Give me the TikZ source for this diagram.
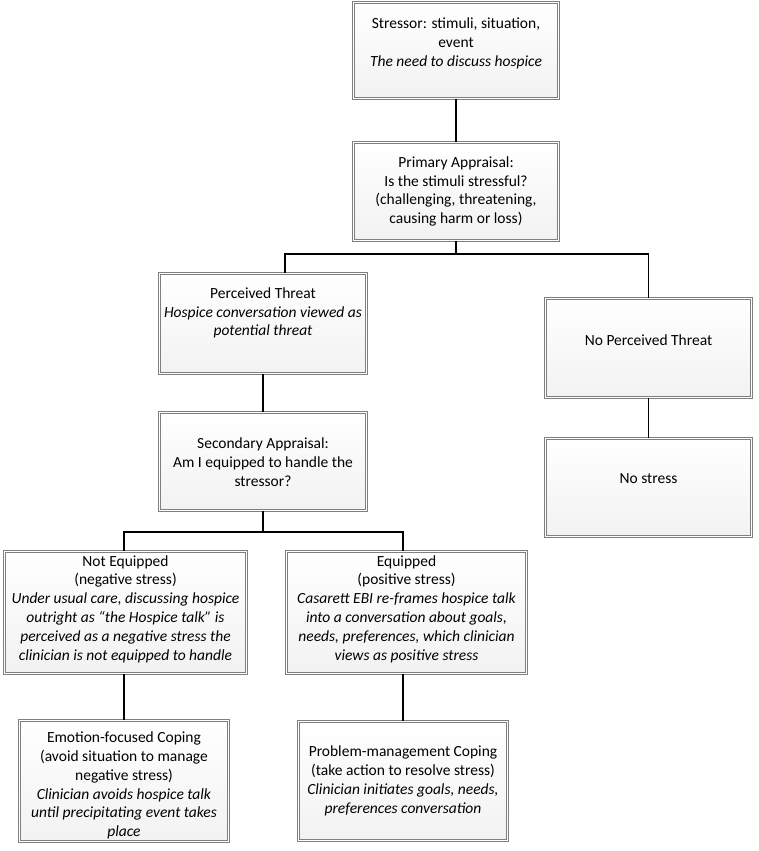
\documentclass[tikz,border=0pt]{standalone}
\usepackage{fontspec}
\setmainfont{Carlito}
\usetikzlibrary{shadows,calc}
\definecolor{boxline}{HTML}{7F7F7F}
\definecolor{boxbot}{HTML}{F2F2F2}
\tikzset{
  box/.style={draw=boxline, line width=0.8pt, double=white, double distance=1.6pt,
    top color=white, bottom color=boxbot, inner sep=0pt,
    drop shadow={shadow xshift=1.5pt, shadow yshift=-1.5pt, opacity=0.2, fill=black}},
  txt/.style={align=center, inner sep=0pt, font=\fontsize{15.5}{18.8}\selectfont},
  conn/.style={line width=1.8pt, black},
}
\begin{document}
\begin{tikzpicture}[x=1pt,y=-1pt]
\useasboundingbox (0,0) rectangle (758,851);
% boxes
\node[box, minimum width=204.8pt, minimum height=95.8pt] (b1) at (456,50.5) {};
\node[box, minimum width=204.8pt, minimum height=97.8pt] (b2) at (456,191.5) {};
\node[box, minimum width=206.8pt, minimum height=99.8pt] (b3) at (263,323.5) {};
\node[box, minimum width=206.8pt, minimum height=97.8pt] (b4) at (263,461.5) {};
\node[box, minimum width=205.8pt, minimum height=98.8pt] (b5) at (648.5,348) {};
\node[box, minimum width=205.8pt, minimum height=97.8pt] (b6) at (648.5,487.5) {};
\node[box, minimum width=241.8pt, minimum height=121.8pt] (b7) at (125.5,612.5) {};
\node[box, minimum width=239.8pt, minimum height=121.8pt] (b8) at (406.5,612.5) {};
\node[box, minimum width=208.8pt, minimum height=120.8pt] (b9) at (124,781) {};
\node[box, minimum width=208.8pt, minimum height=118.8pt] (b10) at (403,781) {};
% texts
\node[txt] (t1) at (456,43.5) {Stressor: stimuli, situation,\\ event\\ \textit{The need to discuss hospice}};
\node[txt] (t2) at (456,191.5) {Primary Appraisal:\\ Is the stimuli stressful?\\ (challenging, threatening,\\ causing harm or loss)};
\node[txt] (t3) at (263,313) {Perceived Threat\\ \textit{Hospice conversation viewed as}\\ \textit{potential threat}};
\node[txt] (t4) at (263,462) {Secondary Appraisal:\\ Am I equipped to handle the\\ stressor?};
\node[txt] (t5) at (648.5,340) {No Perceived Threat};
\node[txt] (t6) at (648.5,479) {No stress};
\node[txt] (t7) at (125.5,609) {Not Equipped\\ (negative stress)\\ \textit{Under usual care, discussing hospice}\\ \textit{outright as “the Hospice talk” is}\\ \textit{perceived as a negative stress the}\\ \textit{clinician is not equipped to handle}};
\node[txt] (t8) at (406.5,609) {Equipped\\ (positive stress)\\ \textit{Casarett EBI re-frames hospice talk}\\ \textit{into a conversation about goals,}\\ \textit{needs, preferences, which clinician}\\ \textit{views as positive stress}};
\node[txt] (t9) at (124,785.5) {Emotion-focused Coping\\ (avoid situation to manage\\ negative stress)\\ \textit{Clinician avoids hospice talk}\\ \textit{until precipitating event takes}\\ \textit{place}};
\node[txt] (t10) at (403,781) {Problem-management Coping\\ (take action to resolve stress)\\ \textit{Clinician initiates goals, needs,}\\ \textit{preferences conversation}};
% junctions
\coordinate (j1) at (456,254);
\coordinate (j1l) at (285,254);
\coordinate (j2) at (263,532);
\coordinate (j2l) at (124,532);
\coordinate (j2r) at (403,532);
% connectors
\draw[conn] (b1.south) -- (b2.north);
\draw[conn] (b2.south) -- (j1);
\draw[conn] (j1l |- b3.north) -- (j1l) -| (b5.north);
\draw[conn] (b5.south) -- (b6.north);
\draw[conn] (b3.south) -- (b4.north);
\draw[conn] (b4.south) -- (j2);
\draw[conn] (j2l |- b7.north) -- (j2l) -- (j2r) -- (j2r |- b8.north);
\draw[conn] (j2l |- b7.south) -- (j2l |- b9.north);
\draw[conn] (j2r |- b8.south) -- (j2r |- b10.north);
\end{tikzpicture}
\end{document}
